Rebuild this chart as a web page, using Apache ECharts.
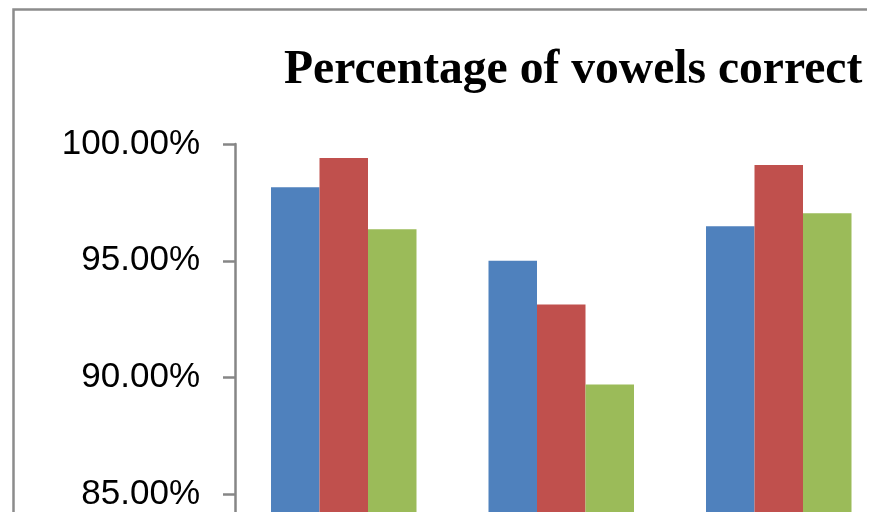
<!DOCTYPE html>
<html>
<head>
<meta charset="utf-8">
<script src="https://cdn.jsdelivr.net/npm/echarts@6/dist/echarts.min.js"></script>
<style>
  html, body { margin: 0; padding: 0; background: #ffffff; }
  #chart { width: 871px; height: 512px; }
</style>
</head>
<body>
<div id="chart"></div>
<script>
// Vowel accuracy per group, three conditions each (percent)
const categories = ['Group A', 'Group B', 'Group C'];
const seriesNames = ['Condition 1', 'Condition 2', 'Condition 3'];
const condition1 = [98.15, 95.00, 96.48];
const condition2 = [99.40, 93.13, 99.10];
const condition3 = [96.35, 89.70, 97.04];
const seriesColors = ['#4F81BD', '#C0504D', '#9BBB59'];
const chartTitle = 'Percentage of vowels correct';

const seriesValues = [condition1, condition2, condition3];

const chart = echarts.init(document.getElementById('chart'), null, { renderer: 'canvas' });

const option = {
  animation: false,
  backgroundColor: '#ffffff',
  title: {
    text: chartTitle,
    left: 279,
    top: 42,
    textStyle: {
      fontFamily: 'Liberation Serif',
      fontWeight: 'bold',
      fontSize: 47.6,
      color: '#000000'
    }
  },
  grid: {
    left: 235,
    top: 144,
    width: 652.5,
    height: 467.2,
    containLabel: false,
    outerBoundsMode: 'none'
  },
  xAxis: {
    type: 'category',
    data: categories,
    axisLine: { show: true, lineStyle: { color: '#868686', width: 2.5 } },
    axisTick: { show: false },
    axisLabel: { show: false }
  },
  yAxis: {
    type: 'value',
    min: 80,
    max: 100,
    interval: 5,
    axisLine: { show: true, lineStyle: { color: '#868686', width: 2.5 } },
    axisTick: { show: true, length: 12, lineStyle: { color: '#868686', width: 2.5 } },
    splitLine: { show: false },
    axisLabel: {
      margin: 35,
      fontFamily: 'Liberation Sans',
      fontSize: 35,
      color: '#000000',
      formatter: function (v) { return v.toFixed(2) + '%'; }
    }
  },
  series: seriesValues.map(function (vals, i) {
    return {
      name: seriesNames[i],
      type: 'bar',
      data: vals,
      barWidth: 48.5,
      barGap: '0%',
      itemStyle: { color: seriesColors[i] }
    };
  }),
  graphic: [
    {
      type: 'polyline',
      silent: true,
      shape: { points: [[13.5, 530], [13.5, 9.5], [867, 9.5]] },
      style: { stroke: '#8c8c8c', lineWidth: 2.5, fill: null }
    }
  ]
};

chart.setOption(option);
</script>
</body>
</html>
